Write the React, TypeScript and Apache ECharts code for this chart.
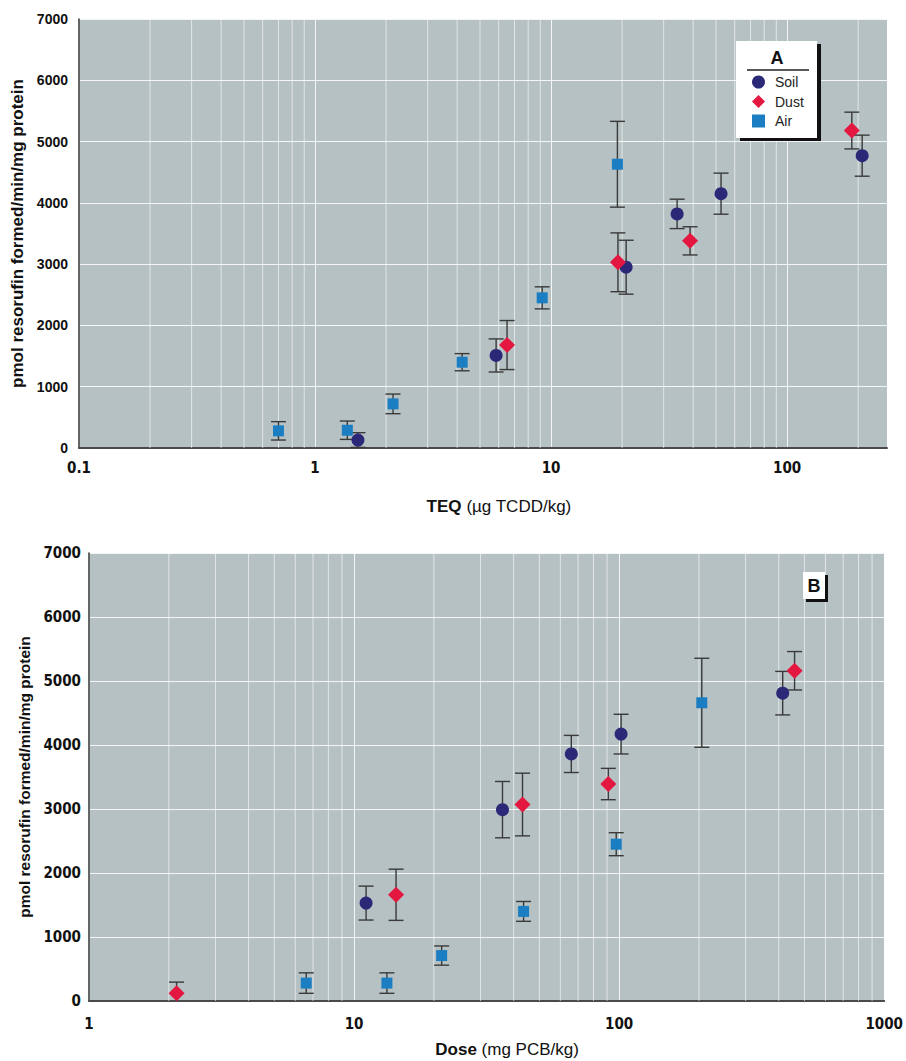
import { useEffect, useRef } from "react";
import * as echarts from "echarts";

// ---------- data ----------
const seriesNames = ["Soil", "Dust", "Air"];

// Panel A: x = TEQ (µg TCDD/kg)
const soilTeq = [1.52, 5.85, 20.8, 34.2, 52.5, 208];
const soilTeqMean = [130, 1510, 2950, 3820, 4150, 4770];
const soilTeqErr = [120, 270, 440, 240, 335, 335];
const dustTeq = [6.51, 19.2, 38.8, 188];
const dustTeqMean = [1680, 3030, 3380, 5180];
const dustTeqErr = [400, 480, 230, 300];
const airTeq = [0.7, 1.37, 2.14, 4.2, 9.17, 19.1];
const airTeqMean = [280, 290, 720, 1400, 2450, 4630];
const airTeqErr = [150, 150, 160, 140, 180, 700];

// Panel B: x = Dose (mg PCB/kg)
const soilDose = [11.1, 36.3, 66, 101.7, 414];
const soilDoseMean = [1530, 2990, 3860, 4170, 4810];
const soilDoseErr = [265, 440, 290, 310, 340];
const dustDose = [2.14, 14.4, 43.2, 91, 459];
const dustDoseMean = [120, 1660, 3070, 3390, 5160];
const dustDoseErr = [175, 400, 490, 245, 300];
const airDose = [6.6, 13.3, 21.4, 43.6, 97.5, 205];
const airDoseMean = [280, 280, 710, 1400, 2450, 4660];
const airDoseErr = [160, 160, 150, 155, 180, 695];

// axes
const yMin = 0;
const yMax = 7000;
const yInterval = 1000;
const teqMin = 0.1;
const teqMax = 265;
const doseMin = 1;
const doseMax = 1000;
const teqDecades = [0.1, 1, 10, 100];
const doseDecades = [1, 10, 100];
const minorSteps = [2, 3, 4, 5, 6, 7, 8, 9];

// ---------- styles ----------
const SANS = "'Liberation Sans', Arial, Helvetica, sans-serif";
const NARROW = "'Liberation Sans Narrow', 'Arial Narrow', 'DejaVu Sans Condensed', sans-serif";
const colors: Record<string, string> = { Soil: "#2b2878", Dust: "#e3173f", Air: "#1b7ec2" };
const symbols: Record<string, string> = { Soil: "circle", Dust: "diamond", Air: "rect" };
const symbolSizes: Record<string, number> = { Soil: 13, Dust: 16, Air: 11 };
const plotBg = "#b6c1c3";
const gridWhite = "rgba(255,255,255,0.85)";
const minorWhite = "rgba(255,255,255,0.6)";

function minorValues(decades: number[], max: number) {
  const out: number[] = [];
  decades.forEach((d) => minorSteps.forEach((k) => {
    const v = k * d;
    if (v < max) out.push(v);
  }));
  return out;
}

function minorGridSeries(values: number[], idx: number) {
  return {
    type: "custom",
    xAxisIndex: idx,
    yAxisIndex: idx,
    silent: true,
    z: 1,
    data: values.map((v) => [v, 0]),
    encode: { x: 0, y: 1 },
    renderItem: (params: any, api: any) => {
      const p = api.coord([api.value(0), 0]);
      const cs = params.coordSys;
      return {
        type: "line",
        shape: { x1: p[0], y1: cs.y, x2: p[0], y2: cs.y + cs.height },
        style: { stroke: minorWhite, lineWidth: 1 },
      };
    },
  };
}

function errorBarSeries(name: string, xs: number[], ys: number[], es: number[], idx: number) {
  return {
    type: "custom",
    name: name + " SE",
    xAxisIndex: idx,
    yAxisIndex: idx,
    silent: true,
    clip: true,
    z: 3,
    data: xs.map((x, i) => [x, ys[i] - es[i], ys[i] + es[i]]),
    encode: { x: 0, y: [1, 2] },
    renderItem: (params: any, api: any) => {
      const x = api.value(0);
      const lo = api.coord([x, api.value(1)]);
      const hi = api.coord([x, api.value(2)]);
      const cs = params.coordSys;
      const bottom = cs.y + cs.height;
      const hw = 7.5;
      const style = { stroke: "#3a3a3a", lineWidth: 1.4 };
      const children: any[] = [
        { type: "line", shape: { x1: lo[0], y1: Math.min(lo[1], bottom), x2: hi[0], y2: hi[1] }, style },
        { type: "line", shape: { x1: hi[0] - hw, y1: hi[1], x2: hi[0] + hw, y2: hi[1] }, style },
      ];
      if (lo[1] <= bottom) {
        children.push({ type: "line", shape: { x1: lo[0] - hw, y1: lo[1], x2: lo[0] + hw, y2: lo[1] }, style });
      }
      return { type: "group", children };
    },
  };
}

function scatterSeries(name: string, xs: number[], ys: number[], idx: number) {
  return {
    type: "scatter",
    name,
    xAxisIndex: idx,
    yAxisIndex: idx,
    z: 5,
    symbol: symbols[name],
    symbolSize: symbolSizes[name],
    itemStyle: { color: colors[name], opacity: 1 },
    data: xs.map((x, i) => [x, ys[i]]),
  };
}

function fmtLog(v: number) {
  if (v >= 1) return String(Math.round(v));
  return String(Number(v.toPrecision(2)));
}

const yTitle = "pmol resorufin formed/min/mg protein";

export default function App() {
  const ref = useRef<HTMLDivElement>(null);

  useEffect(() => {
    document.body.style.margin = "0";
    if (!ref.current) return;
    const chart = echarts.init(ref.current, undefined, { renderer: "svg" });

    const yAxisBase = (idx: number, labelSize: number, labelFont: string, margin: number, nameSize: number, nameGap: number) => ({
      type: "value",
      gridIndex: idx,
      min: yMin,
      max: yMax,
      interval: yInterval,
      name: yTitle,
      nameLocation: "middle",
      nameGap,
      nameTextStyle: { fontFamily: SANS, fontWeight: "bold", fontSize: nameSize, color: "#111" },
      axisLine: { show: true, lineStyle: { color: "#333", width: 1.5 } },
      axisTick: { show: false },
      axisLabel: {
        fontFamily: labelFont, fontWeight: "bold", fontSize: labelSize, color: "#111", margin,
        formatter: (v: number) => String(v),
      },
      splitLine: { show: true, lineStyle: { color: gridWhite, width: 1.2 } },
    });

    const option: any = {
      animation: false,
      backgroundColor: "#ffffff",
      grid: [
        { left: 79, top: 19, width: 808, height: 429, show: true, backgroundColor: plotBg, borderWidth: 0 },
        { left: 89, top: 553, width: 798, height: 448, show: true, backgroundColor: plotBg, borderWidth: 0 },
      ],
      xAxis: [
        {
          type: "log",
          gridIndex: 0,
          logBase: 10,
          min: teqMin,
          max: teqMax,
          name: "{b|TEQ} (µg TCDD/kg)",
          nameLocation: "middle",
          nameGap: 50,
          nameTextStyle: {
            fontFamily: SANS, fontSize: 17, color: "#111", padding: [0, 0, 0, 32],
            rich: { b: { fontFamily: SANS, fontSize: 17, fontWeight: "bold", color: "#111" } },
          },
          axisLine: { show: true, lineStyle: { color: "#4a4a4a", width: 2 } },
          axisTick: { show: false },
          axisLabel: {
            fontFamily: NARROW, fontWeight: "bold", fontSize: 15, color: "#111", margin: 12,
            showMaxLabel: false, formatter: (v: number) => fmtLog(v),
          },
          splitLine: { show: true, lineStyle: { color: gridWhite, width: 1 } },
        },
        {
          type: "log",
          gridIndex: 1,
          logBase: 10,
          min: doseMin,
          max: doseMax,
          name: "{b|Dose} (mg PCB/kg)",
          nameLocation: "middle",
          nameGap: 40,
          nameTextStyle: {
            fontFamily: SANS, fontSize: 17, color: "#111", padding: [0, 0, 0, 41],
            rich: { b: { fontFamily: SANS, fontSize: 17, fontWeight: "bold", color: "#111" } },
          },
          axisLine: { show: true, lineStyle: { color: "#4a4a4a", width: 2 } },
          axisTick: { show: false },
          axisLabel: {
            fontFamily: NARROW, fontWeight: "bold", fontSize: 15, color: "#111", margin: 15,
            formatter: (v: number) => fmtLog(v),
          },
          splitLine: { show: true, lineStyle: { color: gridWhite, width: 1 } },
        },
      ],
      yAxis: [
        yAxisBase(0, 14, SANS, 11, 17, 46),
        yAxisBase(1, 15, NARROW, 8, 15.5, 56),
      ],
      legend: {
        z: 300,
        zlevel: 0,
        data: seriesNames.map((n) => ({ name: n, icon: symbols[n] })),
        orient: "vertical",
        left: 752,
        top: 75,
        itemWidth: 13,
        itemHeight: 13,
        itemGap: 5.5,
        padding: 0,
        selectedMode: false,
        textStyle: { fontFamily: SANS, fontSize: 14, color: "#222", padding: [0, 0, 0, 5] },
      },
      graphic: [
        { type: "rect", z: 100, shape: { x: 740, y: 44, width: 81, height: 97 }, style: { fill: "#111" } },
        { type: "rect", z: 101, shape: { x: 736, y: 41, width: 81, height: 97 }, style: { fill: "#ffffff" } },
        {
          type: "text", z: 102, x: 777, y: 58,
          style: { text: "A", fontFamily: SANS, fontWeight: "bold", fontSize: 18, fill: "#111", align: "center", verticalAlign: "middle" },
        },
        { type: "line", z: 102, shape: { x1: 747, y1: 70, x2: 809, y2: 70 }, style: { stroke: "#222", lineWidth: 1.5 } },
        { type: "rect", z: 100, shape: { x: 806, y: 575, width: 22, height: 27 }, style: { fill: "#111" } },
        { type: "rect", z: 101, shape: { x: 803, y: 572, width: 22, height: 27 }, style: { fill: "#ffffff" } },
        {
          type: "text", z: 102, x: 814, y: 586,
          style: { text: "B", fontFamily: SANS, fontWeight: "bold", fontSize: 18, fill: "#111", align: "center", verticalAlign: "middle" },
        },
      ],
      series: [
        minorGridSeries(minorValues(teqDecades, teqMax), 0),
        minorGridSeries(minorValues(doseDecades, doseMax), 1),
        errorBarSeries("Soil", soilTeq, soilTeqMean, soilTeqErr, 0),
        errorBarSeries("Dust", dustTeq, dustTeqMean, dustTeqErr, 0),
        errorBarSeries("Air", airTeq, airTeqMean, airTeqErr, 0),
        errorBarSeries("Soil", soilDose, soilDoseMean, soilDoseErr, 1),
        errorBarSeries("Dust", dustDose, dustDoseMean, dustDoseErr, 1),
        errorBarSeries("Air", airDose, airDoseMean, airDoseErr, 1),
        scatterSeries("Soil", soilTeq, soilTeqMean, 0),
        scatterSeries("Dust", dustTeq, dustTeqMean, 0),
        scatterSeries("Air", airTeq, airTeqMean, 0),
        scatterSeries("Soil", soilDose, soilDoseMean, 1),
        scatterSeries("Dust", dustDose, dustDoseMean, 1),
        scatterSeries("Air", airDose, airDoseMean, 1),
      ],
    };

    chart.setOption(option);
    return () => chart.dispose();
  }, []);

  return <div ref={ref} style={{ width: 906, height: 1061 }} />;
}
